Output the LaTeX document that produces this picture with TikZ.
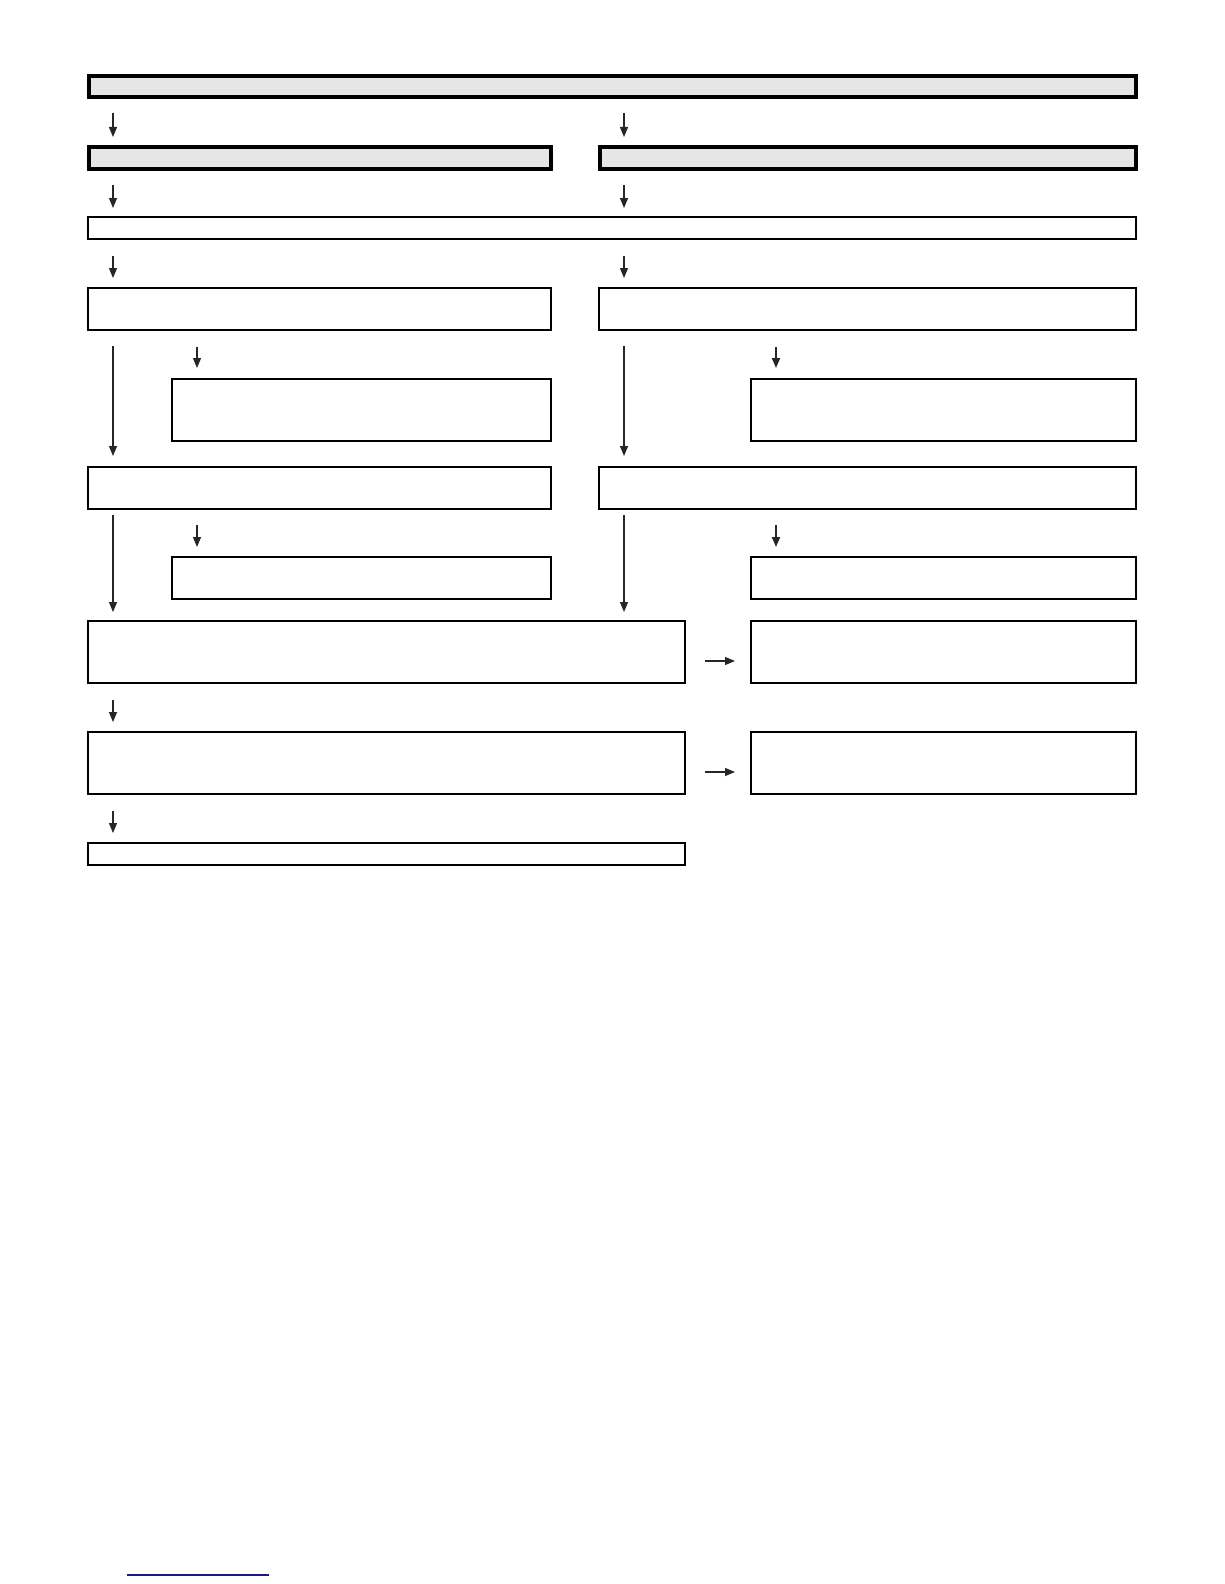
\documentclass[tikz,border=0pt]{standalone}
\usetikzlibrary{arrows.meta,fit}
\definecolor{boxgray}{HTML}{E6E6E6}
\definecolor{navy}{HTML}{1A1A80}
\begin{document}
\begin{tikzpicture}[x=1pt,y=-1pt,
  thinbox/.style={draw=black,line width=1.2pt,inner sep=0pt,outer sep=0pt,fill=white},
  thickbox/.style={draw=black,line width=4pt,inner sep=0pt,outer sep=0pt,fill=boxgray},
  arr/.style={draw=black!85,line width=1.1pt,-{Triangle[length=10pt,width=8pt]}},
  arrb/.style={arr,line width=1.8pt}]
\useasboundingbox (0,0) rectangle (1224,1584);
\fill[white] (0,0) rectangle (1224,1584);
% columns
\coordinate (xl) at (113,0);
\coordinate (xr) at (624,0);
\coordinate (xsl) at (197,0);
\coordinate (xsr) at (776,0);
\coordinate (h1) at (0,661);
\coordinate (h2) at (0,772);
% boxes
\node[thickbox,fit={(89,76)(1136,97)}] (top) {};
\node[thickbox,fit={(89,147)(551,169)}] (b2l) {};
\node[thickbox,fit={(600,147)(1136,169)}] (b2r) {};
\node[thinbox,fit={(88,217)(1136,239)}] (b3) {};
\node[thinbox,fit={(88,288)(551,330)}] (b4l) {};
\node[thinbox,fit={(599,288)(1136,330)}] (b4r) {};
\node[thinbox,fit={(172,379)(551,441)}] (b5l) {};
\node[thinbox,fit={(751,379)(1136,441)}] (b5r) {};
\node[thinbox,fit={(88,467)(551,509)}] (b6l) {};
\node[thinbox,fit={(599,467)(1136,509)}] (b6r) {};
\node[thinbox,fit={(172,557)(551,599)}] (b7l) {};
\node[thinbox,fit={(751,557)(1136,599)}] (b7r) {};
\node[thinbox,fit={(88,621)(685,683)}] (b8l) {};
\node[thinbox,fit={(751,621)(1136,683)}] (b8r) {};
\node[thinbox,fit={(88,732)(685,794)}] (b9l) {};
\node[thinbox,fit={(751,732)(1136,794)}] (b9r) {};
\node[thinbox,fit={(88,843)(685,865)}] (b10) {};
% arrows
\draw[arr,shorten <=16pt,shorten >=10pt] (top.south -| xl) -- (b2l.north -| xl);
\draw[arr,shorten <=16pt,shorten >=10pt] (top.south -| xr) -- (b2r.north -| xr);
\draw[arr,shorten <=16pt,shorten >=9pt] (b2l.south -| xl) -- (b3.north -| xl);
\draw[arr,shorten <=16pt,shorten >=9pt] (b2r.south -| xr) -- (b3.north -| xr);
\draw[arr,shorten <=17pt,shorten >=10pt] (b3.south -| xl) -- (b4l.north -| xl);
\draw[arr,shorten <=17pt,shorten >=10pt] (b3.south -| xr) -- (b4r.north -| xr);
\draw[arr,shorten <=16pt,shorten >=11pt] (b4l.south -| xl) -- (b6l.north -| xl);
\draw[arr,shorten <=16pt,shorten >=11pt] (b4r.south -| xr) -- (b6r.north -| xr);
\draw[arr,shorten <=17pt,shorten >=11pt] (b4l.south -| xsl) -- (b5l.north -| xsl);
\draw[arrb,shorten <=17pt,shorten >=11pt] (b4r.south -| xsr) -- (b5r.north -| xsr);
\draw[arr,shorten <=6pt,shorten >=9pt] (b6l.south -| xl) -- (b8l.north -| xl);
\draw[arr,shorten <=6pt,shorten >=9pt] (b6r.south -| xr) -- (b8l.north -| xr);
\draw[arr,shorten <=16pt,shorten >=10pt] (b6l.south -| xsl) -- (b7l.north -| xsl);
\draw[arrb,shorten <=16pt,shorten >=10pt] (b6r.south -| xsr) -- (b7r.north -| xsr);
\draw[arr,shorten <=17pt,shorten >=10pt] (b8l.south -| xl) -- (b9l.north -| xl);
\draw[arr,shorten <=17pt,shorten >=10pt] (b9l.south -| xl) -- (b10.north -| xl);
\draw[arr,shorten <=20pt,shorten >=16pt] (b8l.east |- h1) -- (b8r.west |- h1);
\draw[arr,shorten <=20pt,shorten >=16pt] (b9l.east |- h2) -- (b9r.west |- h2);
% footer rule
\draw[navy,line width=1.3pt] (127,1575) -- (269,1575);
\end{tikzpicture}
\end{document}
